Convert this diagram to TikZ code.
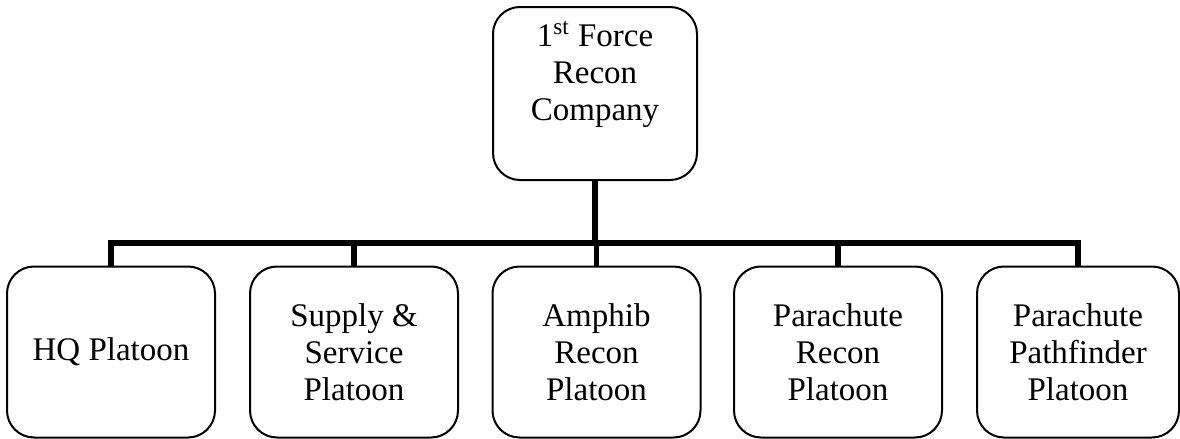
\documentclass[tikz,border=0pt]{standalone}
\usepackage{fontspec}
\setmainfont{Liberation Serif}
\usetikzlibrary{calc}
\begin{document}
\begin{tikzpicture}[x=0.5pt,y=-0.5pt,
  box/.style={draw, line width=1pt, rounded corners=13.5pt, minimum width=104pt,
    minimum height=85.5pt, inner sep=0pt, align=center,
    font=\fontsize{16.5}{18.5}\selectfont},
  txt/.style={inner sep=0pt, align=center, font=\fontsize{16.5}{18.5}\selectfont},
  conn/.style={line width=2.75pt, line join=miter}]
\useasboundingbox (0,0) rectangle (1180,439);
% top box
\node[box, minimum width=102pt, minimum height=86.5pt] (top) at (595,93.5) {};
\node[txt, anchor=north] (toptxt) at (595,21) {1\textsuperscript{st} Force\\Recon\\Company};
% bottom boxes
\node[box] (b1) at (111,352) {HQ Platoon};
\node[box] (b2) at (354,352) {Supply \&\\Service\\Platoon};
\node[box] (b3) at (596.5,352) {Amphib\\Recon\\Platoon};
\node[box] (b4) at (838,352) {Parachute\\Recon\\Platoon};
\node[box, minimum width=101pt] (b5) at (1078,352) {Parachute\\Pathfinder\\Platoon};
\coordinate (bus) at (0,243);
% connectors
\draw[conn] (b1.north) -- (b1.north |- bus) -- (b5.north |- bus) -- (b5.north);
\draw[conn] (top.south) -- (top.south |- bus);
\draw[conn] (b2.north) -- (b2.north |- bus);
\draw[conn] (b3.north) -- (b3.north |- bus);
\draw[conn] (b4.north) -- (b4.north |- bus);
\end{tikzpicture}
\end{document}
